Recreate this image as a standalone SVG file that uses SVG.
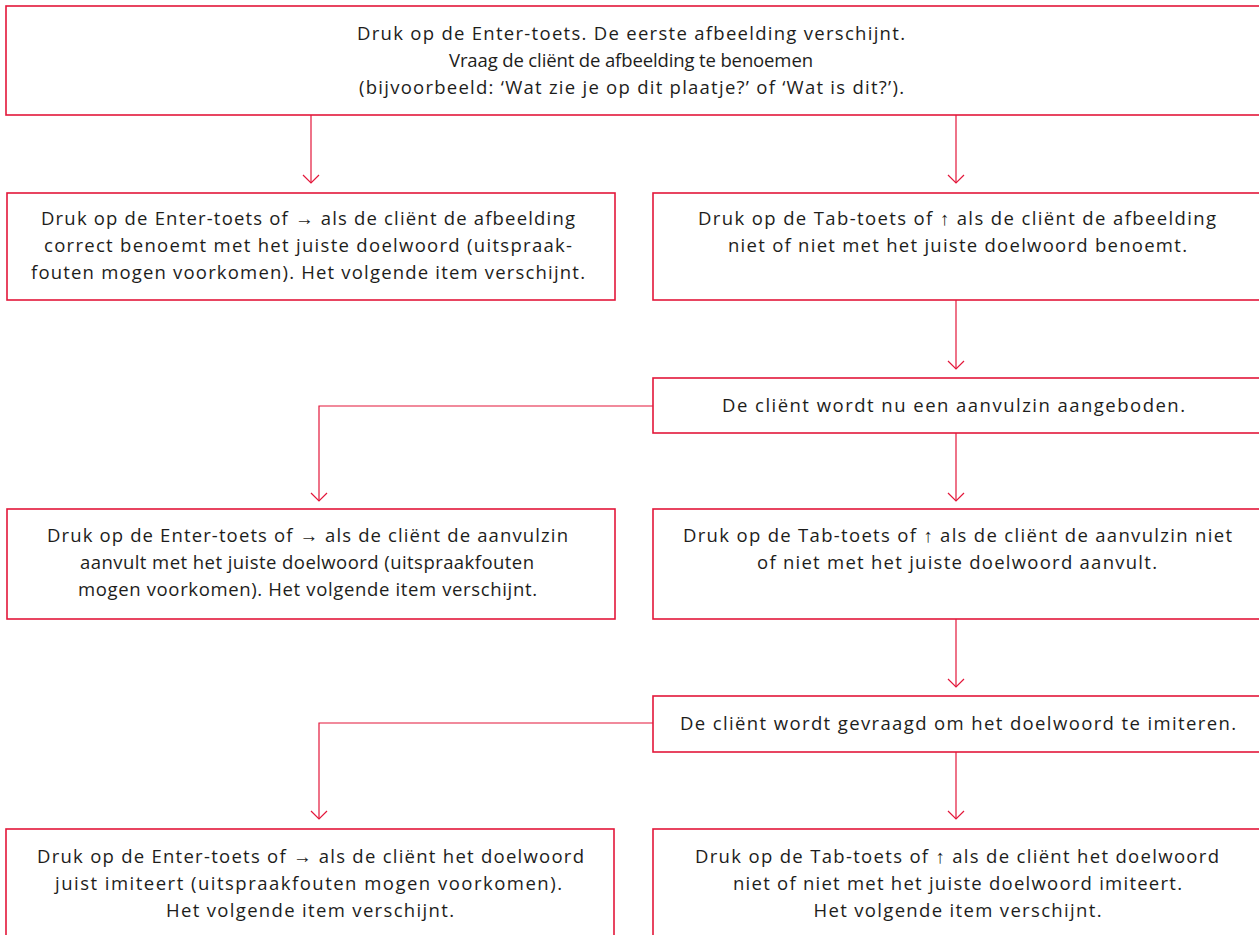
<svg xmlns="http://www.w3.org/2000/svg" width="1259" height="935" viewBox="0 0 1259 935">
<style>
.box{fill:#ffffff;stroke:#e3173a;stroke-width:1.6}
.c{fill:none;stroke:#e3173a;stroke-width:1.2}
text{font-family:"Open Sans","Liberation Sans",sans-serif;font-size:18.5px;fill:#1d1d1b;text-anchor:middle}
</style>
<defs>
<marker id="ah" markerUnits="userSpaceOnUse" markerWidth="20" markerHeight="20" refX="0" refY="0" orient="auto" viewBox="-10 -10 20 20" overflow="visible">
<path d="M-8,-8 L0,0 L-8,8" fill="none" stroke="#e3173a" stroke-width="1.2"/>
</marker>
</defs>
<rect width="1259" height="935" fill="#ffffff"/>
<g id="connectors">
<path class="c" d="M311,115 V183" marker-end="url(#ah)"/>
<path class="c" d="M956,115 V183" marker-end="url(#ah)"/>
<path class="c" d="M956,300 V369" marker-end="url(#ah)"/>
<path class="c" d="M653,406 H319 V501" marker-end="url(#ah)"/>
<path class="c" d="M956,433 V501" marker-end="url(#ah)"/>
<path class="c" d="M956,619 V687" marker-end="url(#ah)"/>
<path class="c" d="M653,723 H319 V819" marker-end="url(#ah)"/>
<path class="c" d="M956,752 V819" marker-end="url(#ah)"/>
</g>
<g id="n1">
<rect class="box" x="6" y="6" width="1262" height="109"/>
<text x="631" y="40" textLength="548" lengthAdjust="spacing">Druk op de Enter-toets. De eerste afbeelding verschijnt.</text>
<text x="631" y="67" textLength="364" lengthAdjust="spacing">Vraag de cliënt de afbeelding te benoemen</text>
<text x="631.5" y="94" textLength="545" lengthAdjust="spacing">(bijvoorbeeld: ‘Wat zie je op dit plaatje?’ of ‘Wat is dit?’).</text>
</g>
<g id="n2">
<rect class="box" x="7" y="193" width="608" height="107"/>
<text x="308" y="225" textLength="534" lengthAdjust="spacing">Druk op de Enter-toets of → als de cliënt de afbeelding</text>
<text x="308" y="252" textLength="528" lengthAdjust="spacing">correct benoemt met het juiste doelwoord (uitspraak-</text>
<text x="308" y="279" textLength="554" lengthAdjust="spacing">fouten mogen voorkomen). Het volgende item verschijnt.</text>
</g>
<g id="n3">
<rect class="box" x="653" y="193" width="615" height="107"/>
<text x="957" y="225" textLength="518" lengthAdjust="spacing">Druk op de Tab-toets of ↑ als de cliënt de afbeelding</text>
<text x="957.5" y="252" textLength="459" lengthAdjust="spacing">niet of niet met het juiste doelwoord benoemt.</text>
</g>
<g id="n4">
<rect class="box" x="653" y="378" width="615" height="55"/>
<text x="953.5" y="412" textLength="463" lengthAdjust="spacing">De cliënt wordt nu een aanvulzin aangeboden.</text>
</g>
<g id="n5">
<rect class="box" x="7" y="509" width="608" height="110"/>
<text x="307.5" y="542" textLength="521" lengthAdjust="spacing">Druk op de Enter-toets of → als de cliënt de aanvulzin</text>
<text x="307" y="569" textLength="454" lengthAdjust="spacing">aanvult met het juiste doelwoord (uitspraakfouten</text>
<text x="307.5" y="596" textLength="459" lengthAdjust="spacing">mogen voorkomen). Het volgende item verschijnt.</text>
</g>
<g id="n6">
<rect class="box" x="653" y="509" width="615" height="110"/>
<text x="957.5" y="542" textLength="549" lengthAdjust="spacing">Druk op de Tab-toets of ↑ als de cliënt de aanvulzin niet</text>
<text x="957" y="569" textLength="400" lengthAdjust="spacing">of niet met het juiste doelwoord aanvult.</text>
</g>
<g id="n7">
<rect class="box" x="653" y="696" width="615" height="56"/>
<text x="958" y="730" textLength="556" lengthAdjust="spacing">De cliënt wordt gevraagd om het doelwoord te imiteren.</text>
</g>
<g id="n8">
<rect class="box" x="6" y="829" width="608" height="120"/>
<text x="310.5" y="863" textLength="547" lengthAdjust="spacing">Druk op de Enter-toets of → als de cliënt het doelwoord</text>
<text x="308.5" y="890" textLength="507" lengthAdjust="spacing">juist imiteert (uitspraakfouten mogen voorkomen).</text>
<text x="310" y="917" textLength="288" lengthAdjust="spacing">Het volgende item verschijnt.</text>
</g>
<g id="n9">
<rect class="box" x="653" y="829" width="615" height="120"/>
<text x="957" y="863" textLength="524" lengthAdjust="spacing">Druk op de Tab-toets of ↑ als de cliënt het doelwoord</text>
<text x="957.5" y="890" textLength="449" lengthAdjust="spacing">niet of niet met het juiste doelwoord imiteert.</text>
<text x="957.5" y="917" textLength="288" lengthAdjust="spacing">Het volgende item verschijnt.</text>
</g>
</svg>
